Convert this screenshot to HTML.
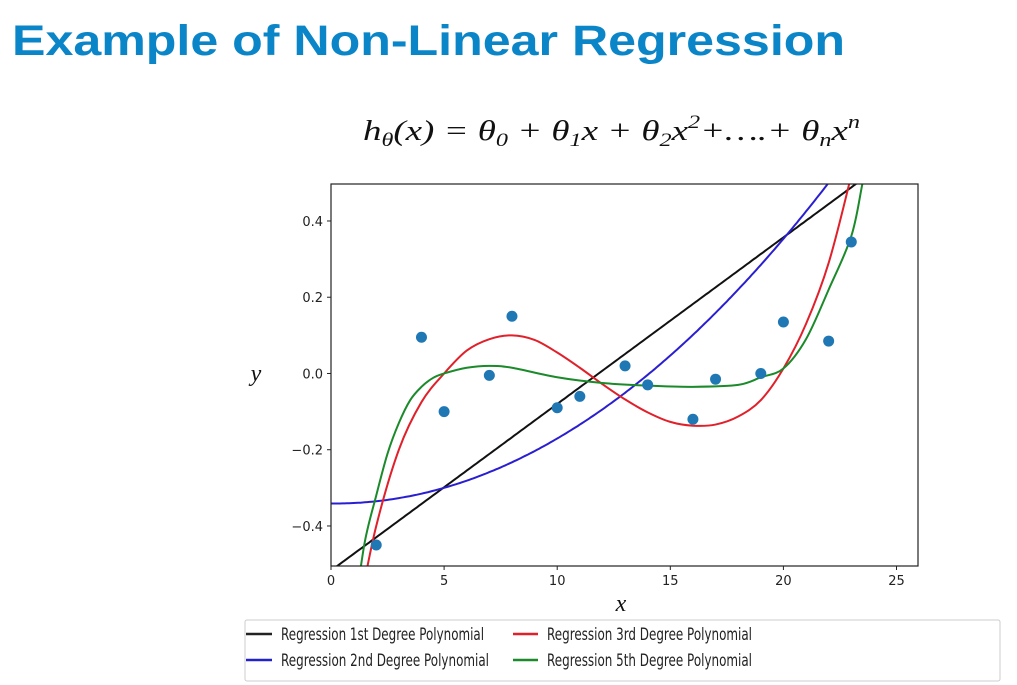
<!DOCTYPE html>
<html><head><meta charset="utf-8"><style>
html,body{margin:0;padding:0;background:#fff;}
svg{display:block;}
</style></head><body>
<svg id="chart" width="1017" height="685" viewBox="0 0 1017 685" xmlns="http://www.w3.org/2000/svg">
<text x="12" y="55" font-family="Liberation Sans, sans-serif" font-weight="bold" font-size="43" fill="#0a85c8" textLength="833" lengthAdjust="spacingAndGlyphs">Example of Non-Linear Regression</text>
<text x="363" y="140" font-family="Liberation Serif, serif" font-style="italic" font-size="29" fill="#111" textLength="497" lengthAdjust="spacingAndGlyphs">h<tspan font-size="19" dy="6">θ</tspan><tspan dy="-6">(x) = θ</tspan><tspan font-size="19" dy="6">0</tspan><tspan dy="-6"> + θ</tspan><tspan font-size="19" dy="6">1</tspan><tspan dy="-6">x + θ</tspan><tspan font-size="19" dy="6">2</tspan><tspan dy="-6">x</tspan><tspan font-size="19" dy="-12">2</tspan><tspan dy="12">+….+ θ</tspan><tspan font-size="19" dy="6">n</tspan><tspan dy="-6">x</tspan><tspan font-size="19" dy="-12">n</tspan></text>
<defs><clipPath id="plotclip"><rect x="331" y="184" width="587" height="382"/></clipPath></defs>
<g id="plot"></g>
<rect x="331" y="184" width="587" height="382" fill="none" stroke="#222" stroke-width="1.2"/>
<text x="621" y="611" font-family="Liberation Serif, serif" font-style="italic" font-size="24" text-anchor="middle" fill="#111">x</text>
<text x="256" y="381" font-family="Liberation Serif, serif" font-style="italic" font-size="24" text-anchor="middle" fill="#111">y</text>
<g>
<rect x="245" y="620" width="755" height="61" fill="#fff" stroke="#ccc" stroke-width="1" rx="2"/>
<g><line x1="246" y1="634" x2="272" y2="634" stroke="#222" stroke-width="2.5"/><text x="281" y="640" font-family="DejaVu Sans, sans-serif" font-size="17" fill="#222" textLength="203" lengthAdjust="spacingAndGlyphs">Regression 1st Degree Polynomial</text></g>
<g><line x1="246" y1="660" x2="272" y2="660" stroke="#2222cc" stroke-width="2.5"/><text x="281" y="666" font-family="DejaVu Sans, sans-serif" font-size="17" fill="#222" textLength="208" lengthAdjust="spacingAndGlyphs">Regression 2nd Degree Polynomial</text></g>
<g><line x1="513" y1="634" x2="538" y2="634" stroke="#e0202a" stroke-width="2.5"/><text x="547" y="640" font-family="DejaVu Sans, sans-serif" font-size="17" fill="#222" textLength="205" lengthAdjust="spacingAndGlyphs">Regression 3rd Degree Polynomial</text></g>
<g><line x1="513" y1="660" x2="538" y2="660" stroke="#1a8a2a" stroke-width="2.5"/><text x="547" y="666" font-family="DejaVu Sans, sans-serif" font-size="17" fill="#222" textLength="205" lengthAdjust="spacingAndGlyphs">Regression 5th Degree Polynomial</text></g>
</g>
</svg>
<script>
var xTicks = [0, 5, 10, 15, 20, 25];
var yTicks = [0.4, 0.2, 0.0, -0.2, -0.4];
var yTickLabels = ["0.4", "0.2", "0.0", "\u22120.2", "\u22120.4"];
var pointX = [2, 4, 5, 7, 8, 10, 11, 13, 14, 16, 17, 19, 20, 22, 23];
var pointY = [-0.45, 0.095, -0.1, -0.005, 0.15, -0.09, -0.06, 0.02, -0.03, -0.12, -0.015, 0.0, 0.135, 0.085, 0.345];
var linCoef = [-0.517, 0.0437];
var quadCoef = [-0.341, -0.00063, 0.001767];
var cubicX = [1.3, 2, 3, 4, 5, 6, 7, 8, 9, 10, 11, 12, 13, 14, 15, 16, 17, 18, 19, 20, 21, 22, 23, 23.5];
var cubicY = [-0.6, -0.40, -0.20, -0.075, 0.0, 0.06, 0.09, 0.1, 0.088, 0.055, 0.015, -0.028, -0.068, -0.102, -0.127, -0.137, -0.134, -0.113, -0.07, 0.013, 0.13, 0.29, 0.52, 0.66];
var quinticX = [1.1, 1.5, 2, 2.5, 3, 3.5, 4, 4.5, 5, 6, 7, 8, 10, 12, 14, 16, 18, 19, 20, 21, 22, 23, 23.5, 24];
var quinticY = [-0.6, -0.44, -0.32, -0.21, -0.13, -0.07, -0.035, -0.012, 0.0, 0.015, 0.02, 0.015, -0.01, -0.025, -0.032, -0.035, -0.03, -0.01, 0.013, 0.09, 0.22, 0.36, 0.5, 0.65];

var NS = "http://www.w3.org/2000/svg";
var L = 331, R = 918, T = 184, B = 566, XMIN = 0, XMAX = 25.95, YMIN = -0.505, YMAX = 0.497;
function sx(v){ return L + (v - XMIN) / (XMAX - XMIN) * (R - L); }
function sy(v){ return B - (v - YMIN) / (YMAX - YMIN) * (B - T); }
var g = document.getElementById('plot');
function mk(tag, attrs){ var e = document.createElementNS(NS, tag); for (var k in attrs) e.setAttribute(k, attrs[k]); return e; }

xTicks.forEach(function(t){
  var ln = mk('line', {x1: sx(t), x2: sx(t), y1: B, y2: B + 4, stroke: '#222'});
  
  
  g.appendChild(ln);
  var tx = mk('text', {x: sx(t), y: B + 19, 'font-family': 'DejaVu Sans, sans-serif', 'font-size': '13', 'text-anchor': 'middle', fill: '#222'});
  tx.textContent = t;
  
  
  g.appendChild(tx);
});
yTicks.forEach(function(t, i){
  var ln = mk('line', {x1: L - 4, x2: L, y1: sy(t), y2: sy(t), stroke: '#222'});
  
  
  g.appendChild(ln);
  var tx = mk('text', {x: L - 8, y: sy(t) + 5, 'font-family': 'DejaVu Sans, sans-serif', 'font-size': '13', 'text-anchor': 'end', fill: '#222'});
  tx.textContent = yTickLabels[i];
  
  
  g.appendChild(tx);
});

var cg = mk('g', {'clip-path': 'url(#plotclip)'});
g.appendChild(cg);

function polyPath(coef){
  var d = '';
  for (var x = 0; x <= 26; x += 0.1){
    var y = 0; for (var k = 0; k < coef.length; k++) y += coef[k] * Math.pow(x, k);
    d += (d ? 'L' : 'M') + sx(x).toFixed(1) + ',' + sy(y).toFixed(1);
  }
  return d;
}
function splinePath(xs, ys){
  var P = xs.map(function(x, i){ return [sx(x), sy(ys[i])]; });
  var d = 'M' + P[0][0] + ',' + P[0][1];
  for (var i = 0; i < P.length - 1; i++){
    var p0 = P[Math.max(0, i - 1)], p1 = P[i], p2 = P[i + 1], p3 = P[Math.min(P.length - 1, i + 2)];
    var c1x = p1[0] + (p2[0] - p0[0]) / 6, c1y = p1[1] + (p2[1] - p0[1]) / 6;
    var c2x = p2[0] - (p3[0] - p1[0]) / 6, c2y = p2[1] - (p3[1] - p1[1]) / 6;
    d += 'C' + c1x + ',' + c1y + ' ' + c2x + ',' + c2y + ' ' + p2[0] + ',' + p2[1];
  }
  return d;
}
var l1 = mk('path', {d: polyPath(linCoef), fill: 'none', stroke: '#111', 'stroke-width': 2});


cg.appendChild(l1);
var l2 = mk('path', {d: polyPath(quadCoef), fill: 'none', stroke: '#2a1fd0', 'stroke-width': 2});


cg.appendChild(l2);
var l3 = mk('path', {d: splinePath(cubicX, cubicY), fill: 'none', stroke: '#e0202a', 'stroke-width': 2});


cg.appendChild(l3);
var l5 = mk('path', {d: splinePath(quinticX, quinticY), fill: 'none', stroke: '#1a8a2a', 'stroke-width': 2});


cg.appendChild(l5);

pointX.forEach(function(x, i){
  var c = mk('circle', {cx: sx(x), cy: sy(pointY[i]), r: 5.5, fill: '#1f77b4'});
  
  
  g.appendChild(c);
});
</script>
</body></html>
